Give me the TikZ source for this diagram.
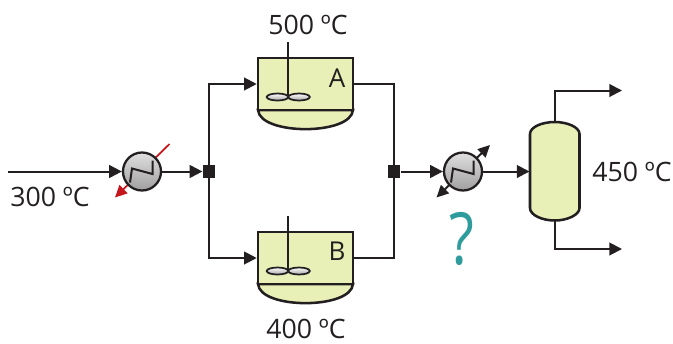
\documentclass[tikz,border=0pt]{standalone}
\usepackage{fontspec}
\setmainfont{Open Sans}
\usetikzlibrary{arrows.meta,calc}
\definecolor{ink}{HTML}{231F20}
\definecolor{vessel}{HTML}{E8F0B8}
\definecolor{teal}{HTML}{2E9C9C}
\definecolor{hot}{HTML}{C4161C}
\tikzset{
  pipe/.style={draw=ink,line width=1.5pt,-{Triangle[length=9.5pt,width=9.5pt]}},
  plainpipe/.style={draw=ink,line width=1.5pt},
  vesselbody/.style={draw=ink,line width=1.9pt,fill=vessel,rectangle,minimum width=71.25pt,minimum height=39pt,inner sep=0pt},
  exch/.style={circle,draw=ink,line width=1.7pt,minimum size=28.5pt,inner sep=0pt,top color=gray!25,bottom color=gray!75},
  junction/.style={rectangle,fill=ink,minimum size=9.5pt,inner sep=0pt},
  label/.style={font=\fontsize{20}{22}\selectfont,text=ink,inner sep=0pt},
  tag/.style={font=\fontsize{19.5}{22}\selectfont,text=ink,inner sep=0pt},
  blade/.style={draw=ink,line width=1.3pt,top color=white,bottom color=gray!70},
  shaft/.style={draw=ink,line width=1.3pt},
  zig/.style={draw=ink,line width=1.5pt,line join=miter},
}
\begin{document}
\begin{tikzpicture}[x=0.75pt,y=-0.75pt]
\useasboundingbox (0,0) rectangle (673,343);
% reactor bottoms
\draw[draw=ink,line width=1.9pt,fill=vessel] (258,110) .. controls (260,135.5) and (351,135.5) .. (353,110) -- cycle;
\draw[draw=ink,line width=1.9pt,fill=vessel] (258,284) .. controls (260,309.5) and (351,309.5) .. (353,284) -- cycle;
% utility lines pass behind the exchangers
\coordinate (u1a) at (169.5,144);
\coordinate (u1b) at (115,197.5);
\draw[draw=hot,line width=1.3pt,-{Triangle[length=9pt,width=8.5pt,color=hot]}] (u1a) -- (u1b);
\coordinate (u2a) at (490,145);
\coordinate (u2b) at (436.5,197.5);
\draw[draw=ink,line width=1.5pt,{Triangle[length=9pt,width=8.5pt]}-{Triangle[length=9pt,width=8.5pt]}] (u2a) -- (u2b);
% nodes
\coordinate (feed) at (8,171.5);
\node[exch] (hx1) at (142,171.5) {};
\node[exch] (hx2) at (463,171.5) {};
\node[junction] (j1) at (209,171.5) {};
\node[junction] (j2) at (394,171.5) {};
\node[vesselbody] (rA) at (305.5,84) {};
\node[vesselbody] (rB) at (305.5,258) {};
% column
\path[draw=ink,line width=1.9pt,fill=vessel] (530,134) .. controls (530,127) and (542,122) .. (554.75,122) .. controls (567,122) and (579.5,127) .. (579.5,134) -- (579.5,208) .. controls (579.5,215) and (567,220.5) .. (554.75,220.5) .. controls (542,220.5) and (530,215) .. (530,208) -- cycle;
\node[minimum width=37.5pt,minimum height=74pt,inner sep=0pt] (col) at (554.75,171.5) {};
\coordinate (top) at (622,90.5);
\coordinate (bot) at (622,249);
% connectors
\draw[pipe] (feed) -- (hx1.west);
\draw[pipe] (hx1.east) -- (j1.west);
\draw[pipe] (j1.north) |- (rA.west);
\draw[pipe] (j1.south) |- (rB.west);
\draw[plainpipe] (rA.east) -| (j2.north);
\draw[plainpipe] (rB.east) -| (j2.south);
\draw[pipe] (j2.east) -- (hx2.west);
\draw[pipe] (hx2.east) -- (col.west);
\draw[pipe] (col.north) |- (top);
\draw[pipe] (col.south) |- (bot);
% exchanger coils
\draw[zig] ($(hx1)+(-12,11)$) -- ($(hx1)+(-10,-3)$) -- ($(hx1)+(10.5,2.5)$) -- ($(hx1)+(10.5,-11)$);
\draw[zig] ($(hx2)+(-12,11)$) -- ($(hx2)+(-10,-3)$) -- ($(hx2)+(10.5,2.5)$) -- ($(hx2)+(10.5,-11)$);
% stirrers
\draw[shaft] (288,42) -- (288,97);
\draw[blade] (277.5,97) ellipse (10.8 and 3.5);
\draw[blade] (299,97) ellipse (10.8 and 3.5);
\draw[shaft] (288,216) -- (288,271);
\draw[blade] (277.5,271) ellipse (10.8 and 3.5);
\draw[blade] (299,271) ellipse (10.8 and 3.5);
% labels
\node[label] (t500) at (308,24.5) {500 ºC};
\node[label] (t400) at (306,329) {400 ºC};
\node[label] (t300) at (50,196.5) {300 ºC};
\node[label] (t450) at (632,171.5) {450 ºC};
\node[tag] (tA) at (337,78) {A};
\node[tag] (tB) at (337,251.5) {B};
\node[font=\fontsize{54}{60}\selectfont,text=teal,inner sep=0pt,xscale=0.8] (q) at (462,239) {?};
\end{tikzpicture}
\end{document}
